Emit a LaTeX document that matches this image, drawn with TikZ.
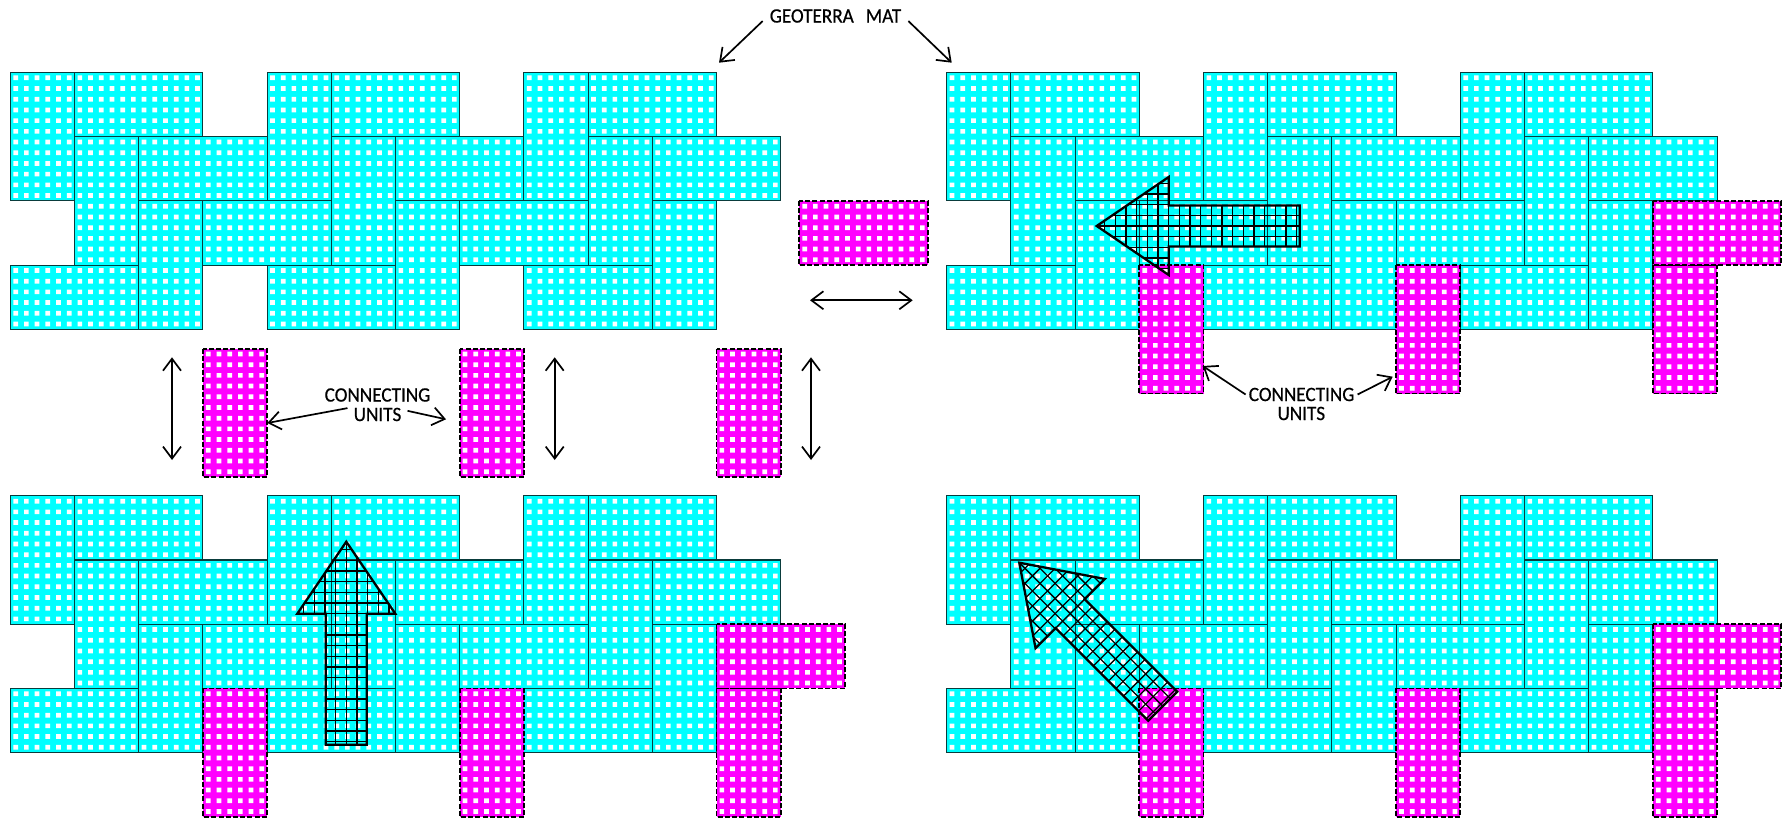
\documentclass[tikz,border=0pt]{standalone}
\usepackage{fontspec}
\newfontfamily\callfont[FakeBold=0.6,FakeStretch=0.94]{Carlito}
\usetikzlibrary{arrows.meta}
\definecolor{matcyan}{RGB}{0, 255, 255}
\definecolor{unitmagenta}{RGB}{255, 0, 255}
\definecolor{matedge}{RGB}{10, 60, 60}
\tikzset{
  mattile/.style={fill=matcyan, draw=matedge, line width=1.1pt},
  unittile/.style={fill=unitmagenta, draw=black, line width=1.8pt, dash pattern=on 5pt off 2.2pt},
  calllabel/.style={font=\callfont\fontsize{20.4}{24}\selectfont, inner ysep=1pt, inner xsep=3pt},
  callarrow/.style={line width=1.7pt},
}
% one tile: style, column, row, width, height (in tile units)
\newcommand{\tilebox}[5]{
  \draw[#1] (#2,#3) rectangle ++(#4,#5);
  \pgfmathtruncatemacro{\nx}{6*#4}
  \pgfmathtruncatemacro{\ny}{6*#5}
  \fill[white] foreach \i in {1,...,\nx} { foreach \j in {1,...,\ny} {
    ({#2+\i/6-0.1199},{#3+\j/6-0.1199}) rectangle ++(0.0732,0.0732) } };
}
\newcommand{\matpanel}[2]{
  \begin{scope}[shift={(#1,#2)}, x=64.2pt, y=-64.2pt]
    \foreach \p/\q in {0/1, 4/5, 8/9} {
      \tilebox{mattile}{\p}{0}{1}{2}
      \tilebox{mattile}{\q}{0}{2}{1}
      \tilebox{mattile}{\q}{1}{1}{2}
      \tilebox{mattile}{\q+1}{1}{2}{1}
      \tilebox{mattile}{\q+1}{2}{1}{2}
      \tilebox{mattile}{\p}{3}{2}{1}
    }
    \tilebox{mattile}{3}{2}{2}{1}
    \tilebox{mattile}{7}{2}{2}{1}
  \end{scope}
}
\newcommand{\unitpanel}[2]{
  \begin{scope}[shift={(#1,#2)}, x=64.2pt, y=-64.2pt]
    \foreach \c in {3, 7, 11} {
      \tilebox{unittile}{\c}{3}{1}{2}
    }
    \tilebox{unittile}{11}{2}{2}{1}
  \end{scope}
}
% hatched arrow: tip position and rotation
\newcommand{\hatcharrow}[3]{
  \begin{scope}[shift={(#1,#2)}, rotate=#3]
    \begin{scope}
      \clip (0,0) -- (49,72) -- (20.5,72) -- (20.5,203) -- (-20.5,203) -- (-20.5,72) -- (-49,72) -- cycle;
      \foreach \k in {-5,...,5} {
        \draw[line width=1.3pt] ({\k*10.67},0) -- ({\k*10.67},210);
      }
      \foreach \k in {-7,...,13} {
        \draw[line width=1.3pt] (-50,{72+\k*10.67}) -- (50,{72+\k*10.67});
      }
    \end{scope}
    \draw[line width=2.3pt, line join=miter] (0,0) -- (49,72) -- (20.5,72) -- (20.5,203) -- (-20.5,203) -- (-20.5,72) -- (-49,72) -- cycle;
  \end{scope}
}

\begin{document}
\begin{tikzpicture}[x=1pt, y=-1pt, >={Straight Barb[length=12pt,width=18pt]}]
        \useasboundingbox (0,0) rectangle (1791,821);

        \matpanel{10.3}{72.5}
        \matpanel{946.7}{72.5}
        \matpanel{10.3}{495.8}
        \matpanel{946.7}{495.8}

        \unitpanel{946.7}{72.5}
        \unitpanel{10.3}{495.8}
        \unitpanel{946.7}{495.8}

        % loose units between the panels
        \begin{scope}[shift={(10.3,284.4)}, x=64.2pt, y=-64.2pt]
          \foreach \c in {3, 7, 11} {
            \tilebox{unittile}{\c}{1}{1}{2}
          }
        \end{scope}
        \begin{scope}[shift={(799.3,200.9)}, x=64.2pt, y=-64.2pt]
          \tilebox{unittile}{0}{0}{2}{1}
        \end{scope}

        \hatcharrow{1096.7}{226}{90}
        \hatcharrow{346.3}{541.7}{0}
        \hatcharrow{1019.3}{562.7}{45}

        \node[calllabel, inner xsep=7pt] (geoterra) at (835.5,16) {GEOTERRA\,\ \ MAT};
        \coordinate (matleft) at (719,62.7);
        \coordinate (matright) at (951.7,62.7);
        \draw[->, callarrow] (geoterra.184) -- (matleft);
        \draw[->, callarrow] (geoterra.356) -- (matright);

        \node[calllabel] (connectleft) at (377.5,395) {CONNECTING};
        \node[calllabel, inner xsep=6pt] (unitsleft) at (377.5,414.5) {UNITS};
        \coordinate (unitleftend) at (267.3,423);
        \coordinate (unitmidend) at (446,419.3);
        \draw[->, callarrow] (unitsleft.168) -- (unitleftend);
        \draw[->, callarrow] (unitsleft.7) -- (unitmidend);

        \node[calllabel] (connectright) at (1301.6,394.5) {CONNECTING};
        \node[calllabel] (unitsright) at (1301.3,413.5) {UNITS};
        \coordinate (unitrightone) at (1202.7,366);
        \coordinate (unitrighttwo) at (1392.7,376.7);
        \draw[->, callarrow] (connectright.west) -- (unitrightone);
        \draw[->, callarrow] (connectright.east) -- (unitrighttwo);

        \coordinate (gapa) at (172,357.3);
        \coordinate (gapb) at (172,460);
        \coordinate (gapc) at (554.7,357.3);
        \coordinate (gapd) at (554.7,460);
        \coordinate (gape) at (811,357.3);
        \coordinate (gapf) at (811,460);
        \coordinate (gapg) at (810,300.3);
        \coordinate (gaph) at (912.7,300.3);
        \draw[<->, callarrow] (gapa) -- (gapb);
        \draw[<->, callarrow] (gapc) -- (gapd);
        \draw[<->, callarrow] (gape) -- (gapf);
        \draw[<->, callarrow] (gapg) -- (gaph);
      \end{tikzpicture}
\end{document}
